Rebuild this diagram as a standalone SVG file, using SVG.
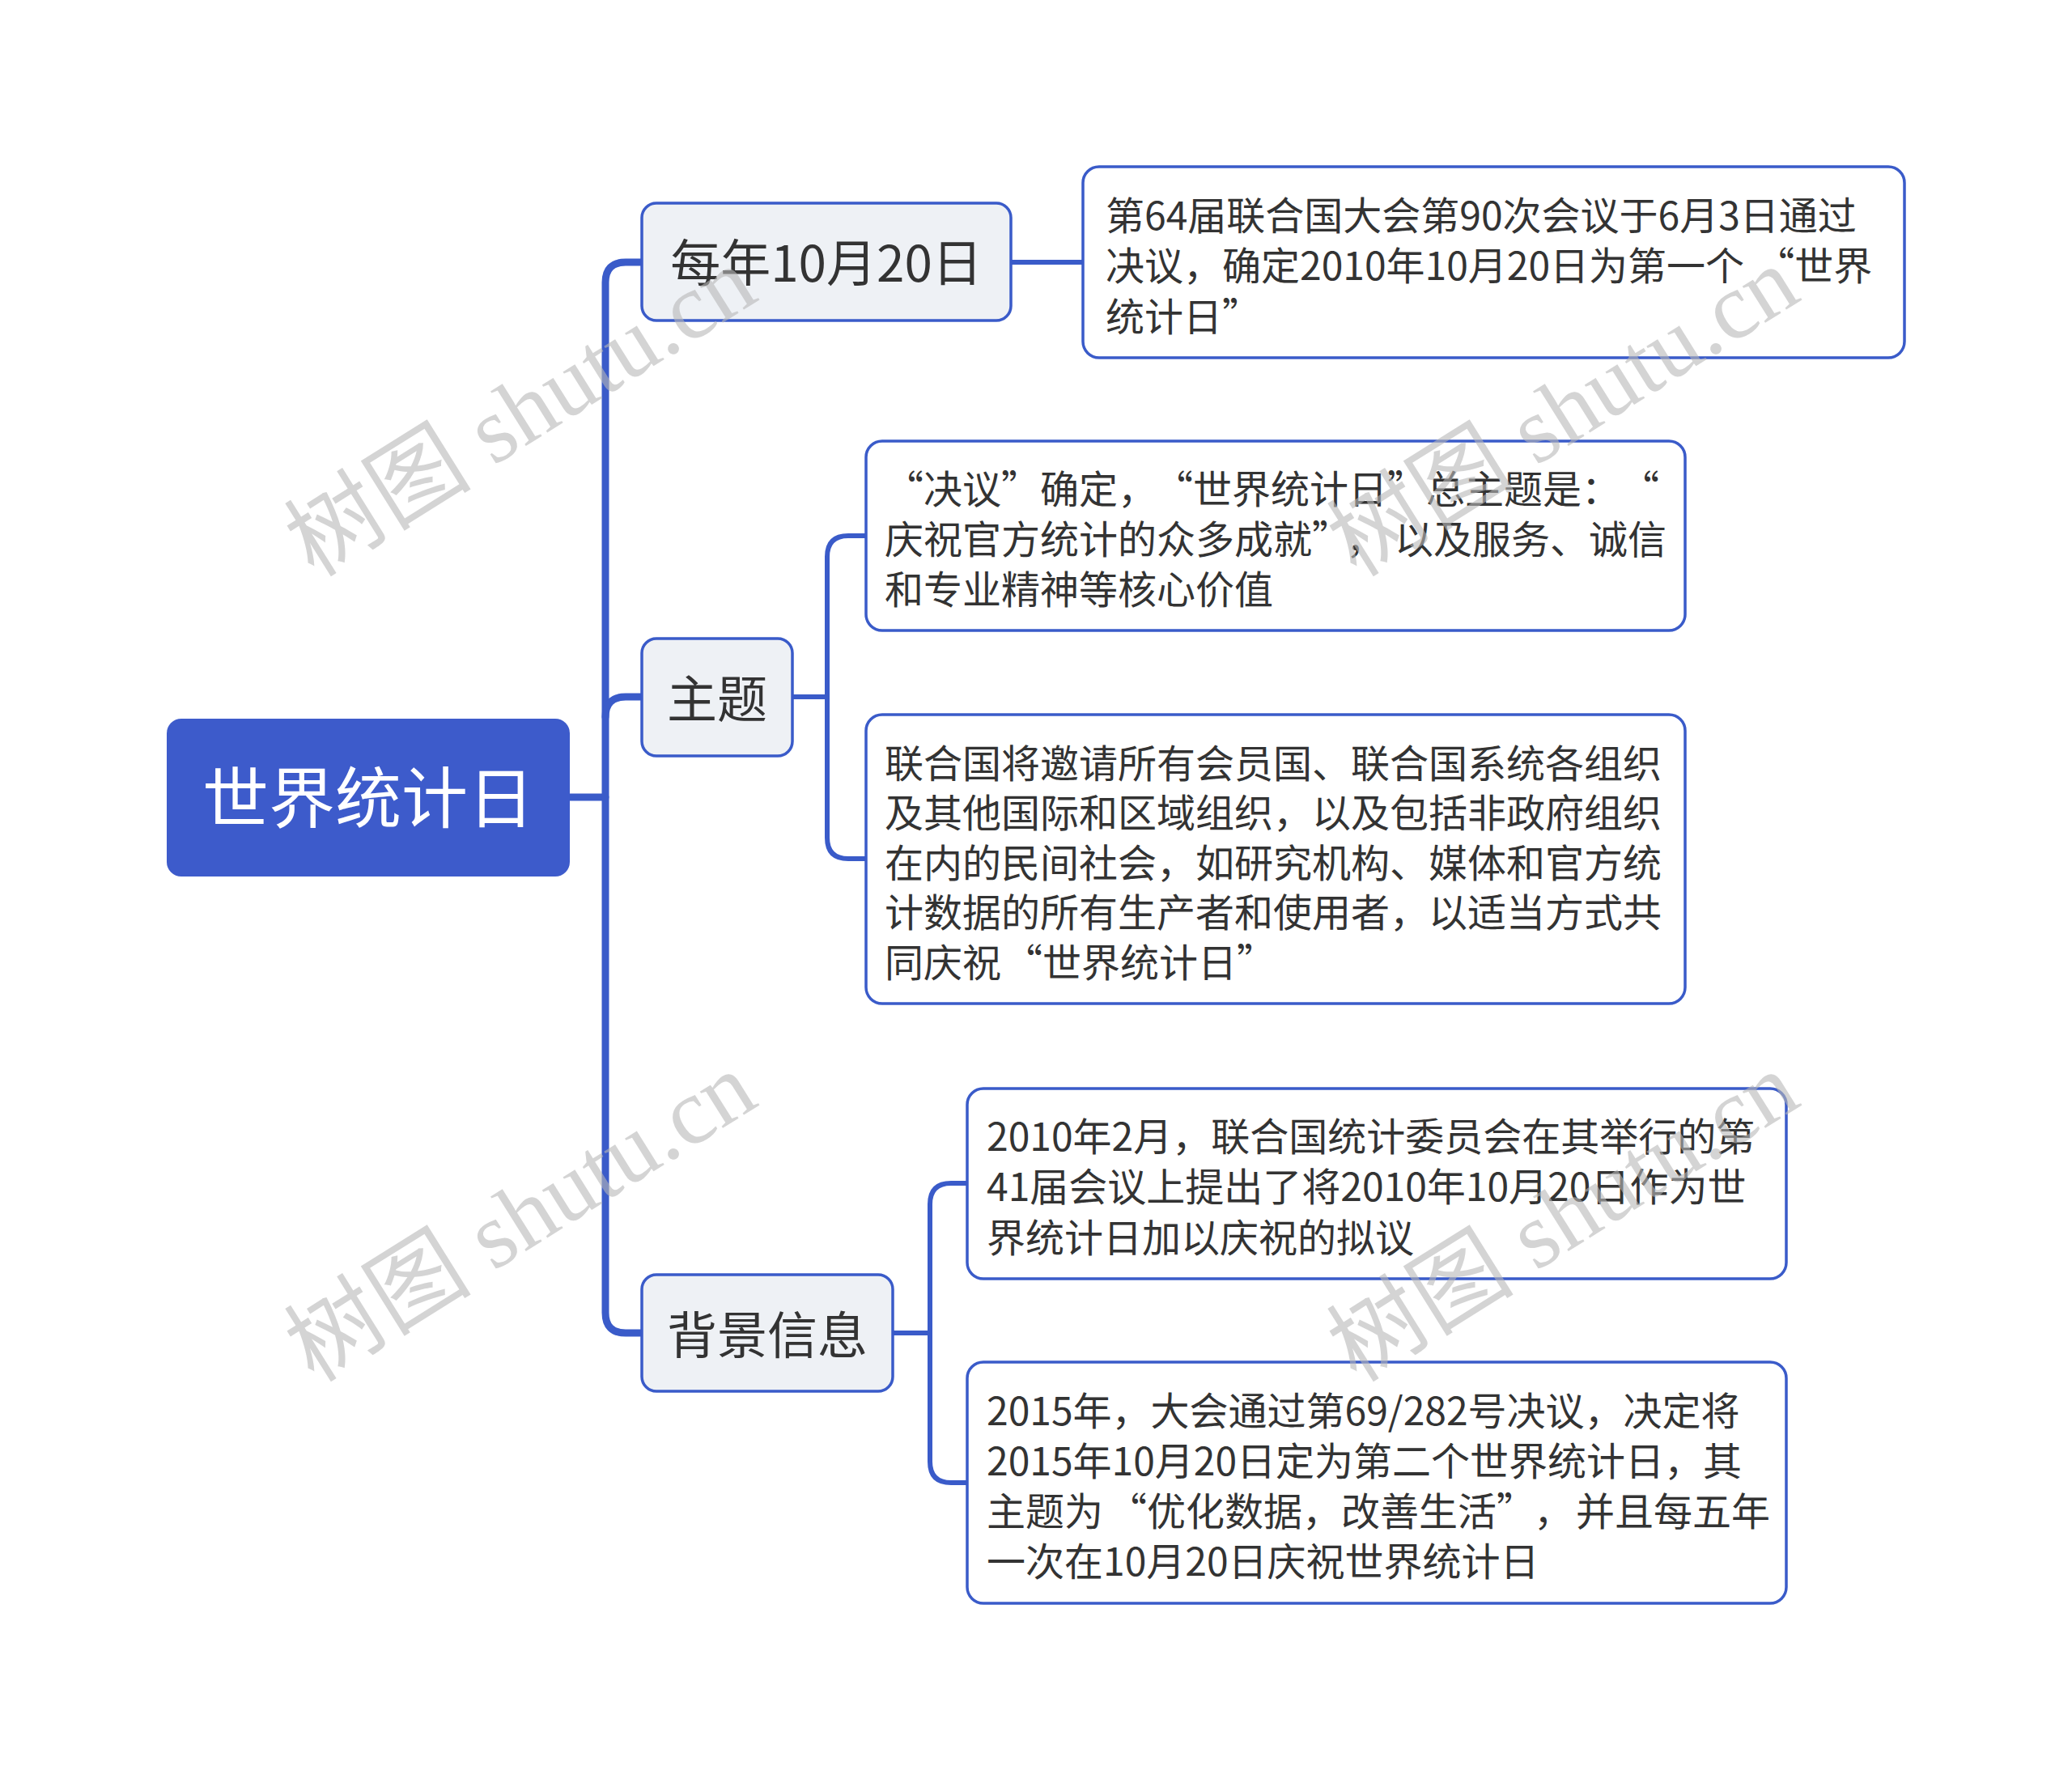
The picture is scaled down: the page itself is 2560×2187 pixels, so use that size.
<svg xmlns="http://www.w3.org/2000/svg" width="2560" height="2187" viewBox="0 0 2560 2187">
<style>
.bg{fill:#ffffff}
.conn{fill:none;stroke:#3a5bc9;stroke-linecap:round;stroke-linejoin:round}
.c1{stroke-width:9}
.c2{stroke-width:6}
.root rect{fill:#3d5bcb}
.root text{fill:#ffffff;font-size:82px}
.sub rect{fill:#eef1f5;stroke:#3a5bc9;stroke-width:3.5}
.sub text{fill:#333333;font-size:62px;text-anchor:middle}
.leaf rect{fill:#ffffff;stroke:#3a5bc9;stroke-width:3.5}
.leaf text{fill:#333333;font-size:48px}
text{font-family:"Noto Sans CJK SC","Noto Sans",sans-serif}
.wm text{font-family:"Liberation Serif","Noto Sans CJK SC",serif;font-size:116px;fill:#b8b8b8;fill-opacity:0.6;text-anchor:middle}
</style>
<rect class="bg" x="0" y="0" width="2560" height="2187"/>
<g id="connectors">
<path class="conn c1" d="M704 985 H748"/>
<path class="conn c1" d="M793 324 H773 Q748 324 748 349 V1622 Q748 1647 773 1647 H793"/>
<path class="conn c1" d="M748 886 Q748 861 773 861 H793"/>
<path class="conn c2" d="M1249 324 H1338"/>
<path class="conn c2" d="M979 861 H1022"/>
<path class="conn c2" d="M1070 662 H1048 Q1022 662 1022 688 V1035 Q1022 1061 1048 1061 H1070"/>
<path class="conn c2" d="M1103 1647 H1149"/>
<path class="conn c2" d="M1195 1462 H1175 Q1149 1462 1149 1488 V1806 Q1149 1832 1175 1832 H1195"/>
</g>
<g id="root" class="root">
<rect x="206" y="888" width="498" height="195" rx="18"/>
<text x="455" y="1016" text-anchor="middle">世界统计日</text>
</g>
<g id="node-date" class="sub">
<rect x="793" y="251" width="456" height="145" rx="18"/>
<text x="1021" y="348">每年10月20日</text>
</g>
<g id="node-theme" class="sub">
<rect x="793" y="789" width="186" height="145" rx="18"/>
<text x="886" y="887">主题</text>
</g>
<g id="node-background" class="sub">
<rect x="793" y="1575" width="310" height="144" rx="18"/>
<text x="948" y="1673">背景信息</text>
</g>
<g id="leaf-1" class="leaf">
<rect x="1338" y="206" width="1015" height="236" rx="20"/>
<text x="1366" y="284">第64届联合国大会第90次会议于6月3日通过</text>
<text x="1366" y="346">决议，确定2010年10月20日为第一个<tspan dx="14">“</tspan>世界</text>
<text x="1366" y="409">统计日”</text>
</g>
<g id="leaf-2" class="leaf">
<rect x="1070" y="545" width="1012" height="234" rx="20"/>
<text x="1093" y="622">“决议”确定，<tspan dx="21">“</tspan>世界统计日”总主题是：<tspan dx="24">“</tspan></text>
<text x="1093" y="684">庆祝官方统计的众多成就”<tspan dx="18">，</tspan><tspan dx="12">以及服务、诚信</tspan></text>
<text x="1093" y="746">和专业精神等核心价值</text>
</g>
<g id="leaf-3" class="leaf">
<rect x="1070" y="883" width="1012" height="357" rx="20"/>
<text x="1093" y="961">联合国将邀请所有会员国、联合国系统各组织</text>
<text x="1093" y="1022">及其他国际和区域组织，以及包括非政府组织</text>
<text x="1093" y="1084">在内的民间社会，如研究机构、媒体和官方统</text>
<text x="1093" y="1145">计数据的所有生产者和使用者，以适当方式共</text>
<text x="1093" y="1207">同庆祝<tspan dx="3">“</tspan>世界统计日”</text>
</g>
<g id="leaf-4" class="leaf">
<rect x="1195" y="1345" width="1012" height="235" rx="20"/>
<text x="1219" y="1422">2010年2月，联合国统计委员会在其举行的第</text>
<text x="1219" y="1484">41届会议上提出了将2010年10月20日作为世</text>
<text x="1219" y="1547">界统计日加以庆祝的拟议</text>
</g>
<g id="leaf-5" class="leaf">
<rect x="1195" y="1683" width="1012" height="298" rx="20"/>
<text x="1219" y="1761">2015年，大会通过第69/282号决议，决定将</text>
<text x="1219" y="1823">2015年10月20日定为第二个世界统计日，其</text>
<text x="1219" y="1885">主题为<tspan dx="6">“</tspan>优化数据，改善生活”<tspan dx="22">，</tspan><tspan dx="4">并且每五年</tspan></text>
<text x="1219" y="1947">一次在10月20日庆祝世界统计日</text>
</g>
<g id="watermarks" class="wm">
<text transform="translate(664 542) rotate(-32)">树图 shutu.cn</text>
<text transform="translate(664 1537) rotate(-32)">树图 shutu.cn</text>
<text transform="translate(1952 542) rotate(-32)">树图 shutu.cn</text>
<text transform="translate(1952 1537) rotate(-32)">树图 shutu.cn</text>
</g>
</svg>
